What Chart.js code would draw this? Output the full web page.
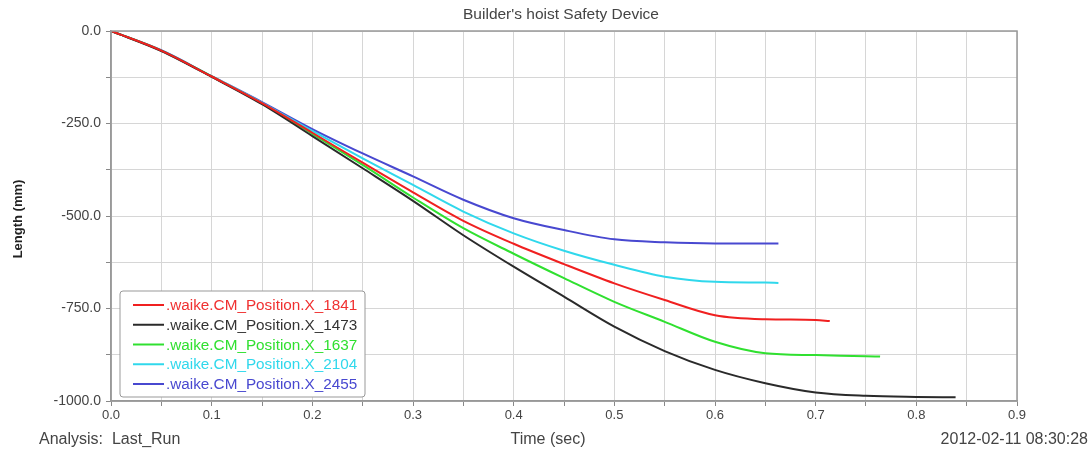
<!DOCTYPE html>
<html>
<head>
<meta charset="utf-8">
<title>Builder's hoist Safety Device</title>
<script src="https://cdn.jsdelivr.net/npm/chart.js@4.4.1/dist/chart.umd.min.js"></script>
<style>
    html, body { margin: 0; padding: 0; background: #fff; }
    #wrap { width: 1092px; height: 452px; }
</style>
</head>
<body>
<div id="wrap"><canvas id="hoistChart" width="1092" height="452"></canvas></div>
<script>
// Data (time in sec, length in mm)
const timeSec = [0, 0.05, 0.1, 0.15, 0.2, 0.25, 0.3, 0.35, 0.4, 0.45, 0.5, 0.55, 0.6, 0.65, 0.7, 0.75, 0.8];

// last value of every series sits at its own end time
const seriesNames = ['.waike.CM_Position.X_1841', '.waike.CM_Position.X_1473', '.waike.CM_Position.X_1637', '.waike.CM_Position.X_2104', '.waike.CM_Position.X_2455'];
const endTimes = [0.714, 0.839, 0.764, 0.663, 0.663];

const pos1841 = [0, -53, -123, -195, -275, -356, -436, -513, -575, -630, -682, -727, -768, -779, -781, -784];
const pos1473 = [0, -54, -124, -198, -284, -371, -459, -552, -637, -718, -799, -865, -916, -952, -977, -986, -989, -990];
const pos1637 = [0, -53, -123, -196, -278, -362, -450, -533, -602, -668, -732, -786, -840, -871, -876, -879, -880];
const pos2104 = [0, -53, -123, -194, -270, -344, -416, -488, -547, -594, -632, -664, -678, -680, -681];
const pos2455 = [0, -52, -122, -192, -265, -331, -393, -456, -506, -538, -563, -571, -574, -574, -574];

const seriesValues = [pos1841, pos1473, pos1637, pos2104, pos2455];
const lineColors = ['#f02020', '#2a2a2a', '#30e030', '#30d8ec', '#4848d0'];
const textColors = ['#f03030', '#333333', '#30e030', '#30d8ec', '#4848d0'];

const xTicks = [0, 0.1, 0.2, 0.3, 0.4, 0.5, 0.6, 0.7, 0.8, 0.9];
const yTicks = [0, -250, -500, -750, -1000];

function buildPoints(values, endT) {
    const pts = values.map((v, i) => ({ x: timeSec[i], y: v }));
    pts[pts.length - 1].x = endT;
    return pts;
}

// Frame, titles, footer and the boxed legend
const decorPlugin = {
    id: 'decor',
    afterDraw(chart) {
        const ctx = chart.ctx;
        const a = chart.chartArea;
        ctx.save();

        ctx.strokeStyle = '#999';
        ctx.lineWidth = 1.5;
        ctx.strokeRect(a.left, a.top, a.right - a.left, a.bottom - a.top);

        ctx.fillStyle = '#444';
        ctx.font = '15.5px "Liberation Sans", Arial, sans-serif';
        ctx.textAlign = 'center';
        ctx.textBaseline = 'middle';
        ctx.fillText("Builder's hoist Safety Device", 561, 15);

        ctx.save();
        ctx.translate(18, 219);
        ctx.rotate(-Math.PI / 2);
        ctx.fillStyle = '#222';
        ctx.font = 'bold 13px "Liberation Sans", Arial, sans-serif';
        ctx.fillText('Length (mm)', 0, 0);
        ctx.restore();

        ctx.fillStyle = '#444';
        ctx.font = '16px "Liberation Sans", Arial, sans-serif';
        ctx.textAlign = 'left';
        ctx.fillText('Analysis:  Last_Run', 39, 440);
        ctx.textAlign = 'center';
        ctx.fillText('Time (sec)', 548, 440);
        ctx.textAlign = 'right';
        ctx.fillText('2012-02-11 08:30:28', 1088, 440);

        // legend box
        const bx = 120, by = 291, bw = 245, bh = 106;
        ctx.beginPath();
        ctx.roundRect(bx, by, bw, bh, 3);
        ctx.fillStyle = '#fff';
        ctx.fill();
        ctx.strokeStyle = '#999';
        ctx.lineWidth = 1;
        ctx.stroke();

        ctx.font = '15.3px "Liberation Sans", Arial, sans-serif';
        ctx.textAlign = 'left';
        chart.data.datasets.forEach((ds, i) => {
            const y = 305 + i * 19.75;
            ctx.strokeStyle = ds.borderColor;
            ctx.lineWidth = 2;
            ctx.beginPath();
            ctx.moveTo(133, y);
            ctx.lineTo(164, y);
            ctx.stroke();
            ctx.fillStyle = textColors[i];
            ctx.fillText(ds.label, 166, y + 1);
        });
        ctx.restore();
    }
};

const hoistChart = new Chart(document.getElementById('hoistChart'), {
    type: 'line',
    data: {
        datasets: seriesNames.map((name, i) => ({
            label: name,
            data: buildPoints(seriesValues[i], endTimes[i]),
            borderColor: lineColors[i],
            backgroundColor: lineColors[i],
            borderWidth: 2,
            pointRadius: 0,
            cubicInterpolationMode: 'monotone',
            fill: false
        }))
    },
    options: {
        responsive: false,
        animation: false,
        layout: { padding: { top: 31, right: 75, left: 0, bottom: 0 } },
        plugins: {
            legend: { display: false },
            title: { display: false },
            tooltip: { enabled: false }
        },
        scales: {
            x: {
                type: 'linear',
                min: 0,
                max: 0.9,
                afterFit: (scale) => { scale.height = 51; },
                afterBuildTicks: (scale) => {
                    const t = [];
                    for (let i = 0; i <= 18; i++) t.push({ value: i * 0.05 });
                    scale.ticks = t;
                },
                grid: { color: '#d6d6d6', tickColor: '#888', tickLength: 5 },
                border: { color: '#999', width: 1.5 },
                ticks: {
                    autoSkip: false,
                    maxRotation: 0,
                    padding: 2,
                    color: '#444',
                    font: { family: '"Liberation Sans", Arial, sans-serif', size: 13 },
                    callback: (v) => {
                        const hit = xTicks.find(t => Math.abs(t - v) < 1e-6);
                        return hit === undefined ? '' : hit.toFixed(1);
                    }
                }
            },
            y: {
                min: -1000,
                max: 0,
                afterFit: (scale) => { scale.width = 111; },
                grid: { color: '#d6d6d6', tickColor: '#888', tickLength: 5 },
                border: { color: '#999', width: 1.5 },
                ticks: {
                    stepSize: 125,
                    autoSkip: false,
                    padding: 5,
                    color: '#444',
                    font: { family: '"Liberation Sans", Arial, sans-serif', size: 14 },
                    callback: (v) => yTicks.includes(v) ? v.toFixed(1) : ''
                }
            }
        }
    },
    plugins: [decorPlugin]
});
</script>
</body>
</html>
